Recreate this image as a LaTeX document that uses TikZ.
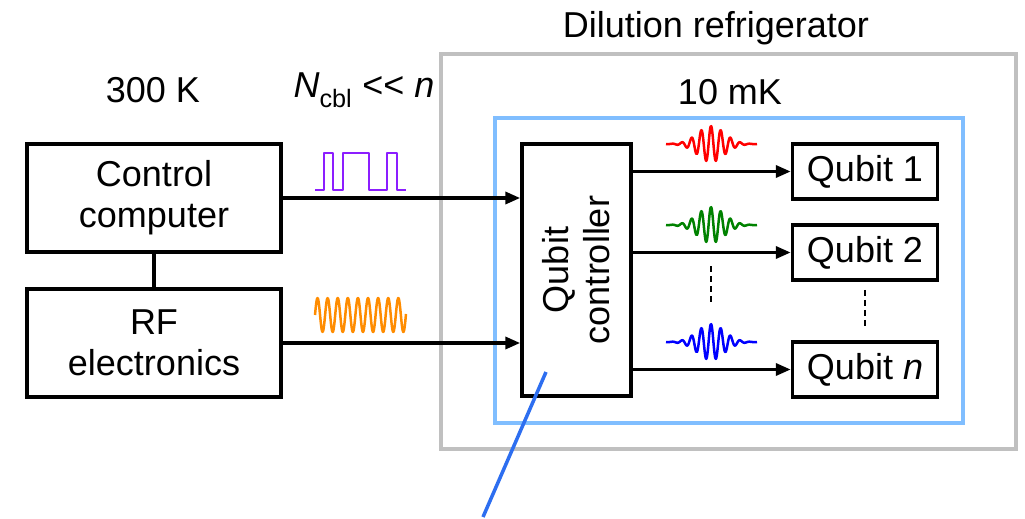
\documentclass[tikz,border=0pt]{standalone}
\usepackage{fontspec}
\setmainfont{Liberation Sans}
\usetikzlibrary{arrows.meta,positioning,calc}

\definecolor{fridgegray}{RGB}{192,192,192}
\definecolor{stageblue}{RGB}{128,190,255}
\definecolor{ptrblue}{RGB}{45,110,240}
\definecolor{sqpurple}{RGB}{140,30,255}
\definecolor{rforange}{RGB}{255,140,0}
\definecolor{pgreen}{RGB}{0,130,0}

\begin{document}
\begin{tikzpicture}[x=1pt,y=-1pt,
  font=\fontsize{36}{41}\selectfont,
  box/.style={draw,line width=3.5pt,inner sep=0pt},
  qbox/.style={box,minimum width=145,minimum height=55},
  arr/.style={line width=3.5pt,-{Triangle[length=15pt,width=12pt]}},
  link/.style={line width=3.5pt},
  wave/.style={line width=2.5pt,line join=round},
  dotsep/.style={line width=2pt,dash pattern=on 6pt off 4pt},
  fridge/.style={draw=fridgegray,line width=4pt},
  stage/.style={draw=stageblue,line width=3.5pt},
  pointer/.style={draw=ptrblue,line width=3.5pt}]
  \useasboundingbox (0,0) rectangle (1025,519);
  \def\pulse(#1,#2)#3{
    \draw[#3,wave] plot[domain=666:757,samples=200,smooth]
      (\x,{#2-18*exp(-((\x-#1)/19)^2)*cos((\x-#1)/9.7*360)});
  }

  % cryostat stages
  \draw[fridge] (441,54) rectangle (1016,449);
  \draw[stage] (495,118) rectangle (963,423);
  \node (fridgelabel) at (716,28) {Dilution refrigerator};
  \node (cold) at (730,92) {10 mK};
  \node (hot) at (153,90) {300 K};
  \node (ncbl) at (364,90) {\textit{N}\textsubscript{cbl} <\kern0pt< \textit{n}};

  % room temperature side
  \node[box,minimum width=254,minimum height=108,align=center] (cc) at (154,198) {Control\\computer};
  \node[box,minimum width=254,minimum height=108,align=center] (rf) at (154,343) {RF\\electronics};
  \draw[link] (cc) -- (rf);

  % cold side
  \node[box,minimum width=109,minimum height=252] (qc) at (576.5,270) {};
  \node[rotate=90,align=center] (qclabel) at (qc.center) {Qubit\\controller};
  \foreach \y/\name/\txt in {171.5/q1/Qubit 1,252.5/q2/Qubit 2,369.5/qn/Qubit \textit{n}}{
    \node[qbox] (\name) at (865,\y) {\txt};
    \draw[arr] (qc.east |- \name.west) -- (\name.west);
  }
  \draw[arr] (cc.east) -- (cc.east -| qc.west);
  \draw[arr] (rf.east) -- (rf.east -| qc.west);

  % signals
  \draw[sqpurple,wave] (315,190) -| (324,153) -| (333,190) -| (343,153)
    -| (369,190) -| (387,153) -| (397,190) -- (406,190);
  \draw[rforange,wave] plot[domain=315:406,samples=200,smooth]
    (\x,{315-17*sin((\x-315)/10.1*360)});
  \pulse(711,144){red}
  \pulse(711,225){pgreen}
  \pulse(711,342){blue}
  \draw[dotsep] (711,266) -- (711,303);
  \draw[dotsep,shorten <=8pt,shorten >=12pt] (q2.south) -- (qn.north);

  \coordinate (tipin) at (546,372);
  \coordinate (tipout) at (483,517);
  \draw[pointer] (tipin) -- (tipout);
\end{tikzpicture}
\end{document}
